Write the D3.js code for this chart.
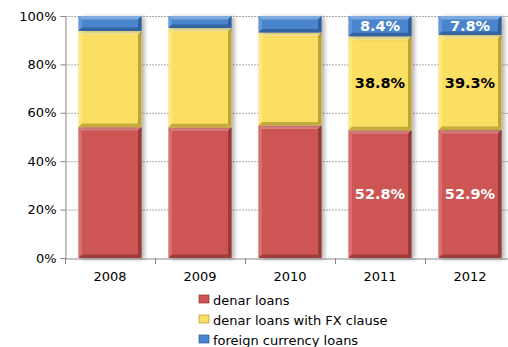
<!DOCTYPE html>
<html><head><meta charset="utf-8">
<script src="https://cdn.jsdelivr.net/npm/d3@7"></script>
<style>body{margin:0;background:#fff}svg{display:block}text{font-family:"DejaVu Sans",Verdana,sans-serif}</style>
</head><body>
<script>
const years = ["2008","2009","2010","2011","2012"];
const denar = [54.1, 54.0, 54.8, 52.8, 52.9];
const fxClause = [39.7, 41.0, 38.4, 38.8, 39.3];
const foreign = [6.2, 5.0, 6.8, 8.4, 7.8];
const seriesNames = ["denar loans","denar loans with FX clause","foreign currency loans"];
const colors = ["#CD5754","#FBDF62","#4A84CC"];
const darks = ["#8E3533","#B29A33","#2C5A92"];
const lights = ["#E48784","#FFEF99","#7EAAE0"];
const labelColors = ["#fff","#000","#fff"];
const labelledYears = ["2011","2012"];
const yTicks = [0,20,40,60,80,100];

const W=508,H=347;
const svg=d3.select("body").append("svg").attr("width",W).attr("height",H);
const defs=svg.append("defs");
const f=defs.append("filter").attr("id","sh").attr("x","-20%").attr("y","-20%").attr("width","150%").attr("height","150%");
f.append("feDropShadow").attr("dx",3).attr("dy",1).attr("stdDeviation",2).attr("flood-color","#000").attr("flood-opacity",0.3);

const x=d3.scaleBand().domain(years).range([65,515]).paddingInner(0.3).paddingOuter(0.15);
const y=d3.scaleLinear().domain([0,100]).range([258,16]);

// grid
svg.append("g").selectAll("line").data(yTicks.filter(d=>d>0)).join("line")
 .attr("x1",65).attr("x2",W).attr("y1",d=>y(d)+0.5).attr("y2",d=>y(d)+0.5)
 .attr("stroke","#aaa").attr("stroke-dasharray","2,1").attr("stroke-width",1);

// y axis
const ya=svg.append("g").attr("transform","translate(65.5,0)")
 .call(d3.axisLeft(y).tickValues(yTicks).tickFormat(d=>d+"%").tickSize(5).tickPadding(4));
ya.select(".domain").attr("stroke","#888");
ya.selectAll(".tick line").attr("stroke","#888");
ya.selectAll("text").attr("font-size",13).attr("fill","#000").attr("font-family","DejaVu Sans");

// x axis
const xa=svg.append("g").attr("transform","translate(0,258.5)")
 .call(d3.axisBottom(x).tickSize(0).tickPadding(13));
xa.select(".domain").attr("stroke","#888");
xa.selectAll("text").attr("font-size",13).attr("fill","#000").attr("font-family","DejaVu Sans");
svg.append("g").selectAll("line").data(d3.range(years.length+1)).join("line")
 .attr("x1",i=>65.5+i*x.step()).attr("x2",i=>65.5+i*x.step()).attr("y1",258).attr("y2",264).attr("stroke","#888");

const rows=years.map((yr,i)=>({year:yr,"0":denar[i],"1":fxClause[i],"2":foreign[i]}));
const stack=d3.stack().keys(["0","1","2"])(rows);

const bw=x.bandwidth();
stack.forEach((layer,k)=>{
  const g=svg.append("g");
  layer.forEach(d=>{
    const x0=x(d.data.year), y0=y(d[1]), h=y(d[0])-y(d[1]);
    const gg=g.append("g");
    gg.append("rect").attr("x",x0).attr("y",y0).attr("width",bw).attr("height",h)
      .attr("fill",colors[k]).attr("filter","url(#sh)");
    const b=3.5;
    gg.append("polygon").attr("points",[[x0,y0],[x0+bw,y0],[x0+bw-b,y0+b],[x0+b,y0+b]].join(" ")).attr("fill",lights[k]);
    gg.append("polygon").attr("points",[[x0,y0],[x0+b,y0+b],[x0+b,y0+h-b],[x0,y0+h]].join(" ")).attr("fill",lights[k]).attr("opacity",0.5);
    gg.append("polygon").attr("points",[[x0+bw,y0],[x0+bw,y0+h],[x0+bw-b,y0+h-b],[x0+bw-b,y0+b]].join(" ")).attr("fill",darks[k]).attr("opacity",0.85);
    gg.append("polygon").attr("points",[[x0,y0+h],[x0+bw,y0+h],[x0+bw-b,y0+h-b],[x0+b,y0+h-b]].join(" ")).attr("fill",darks[k]).attr("opacity",0.75);
    if(labelledYears.includes(d.data.year)){
      g.append("text").attr("x",x0+bw/2).attr("y",(y0+y(d[0]))/2).attr("dy","0.36em")
       .attr("text-anchor","middle").attr("font-size",14.5).attr("font-weight","bold")
       .attr("fill",labelColors[k]).text((d[1]-d[0]).toFixed(1)+"%");
    }
  });
});

// legend
const lg=svg.append("g");
seriesNames.forEach((n,i)=>{
  const yy=300+i*20;
  lg.append("rect").attr("x",199).attr("y",yy-5).attr("width",10).attr("height",8).attr("fill",colors[i]).attr("stroke",darks[i]).attr("stroke-width",0.7);
  lg.append("text").attr("x",213).attr("y",yy).attr("dy","0.35em").attr("font-size",13).text(n);
});
</script>
</body></html>
